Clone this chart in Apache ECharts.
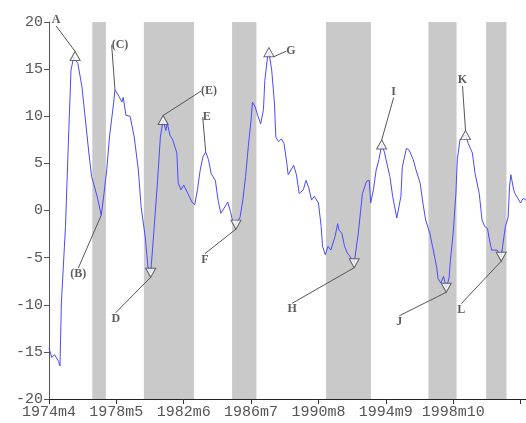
<!DOCTYPE html>
<html>
<head>
<meta charset="utf-8">
<script src="https://cdn.jsdelivr.net/npm/echarts@6/dist/echarts.min.js"></script>
<style>html,body{margin:0;padding:0;background:#fff}#c{width:526px;height:423px}</style>
</head>
<body>
<div id="c"></div>
<script>
// month offsets from 1974m4 and series values
const months = [0,2,4,7,8,9,12,14,16,18,19,21,24,26,29,31,35,38,40,42,44,47,48,51,53,54,56,59,62,65,67,70,72,74,76,79,81,83,85,86,88,90,93,94,96,98,99,101,104,106,108,110,112,114,116,118,121,123,125,128,130,132,134,136,139,141,143,145,147,148,150,152,154,156,157,159,160,162,164,165,167,169,171,173,174,178,180,182,185,187,189,191,193,196,198,199,201,203,205,208,210,211,213,215,217,220,222,225,227,228,231,233,234,236,238,240,242,244,245,248,250,253,254,256,257,260,262,265,267,270,272,274,277,279,282,283,285,287,289,291,292,294,296,297,299,301,303,305,308,310,313,315,317,319,320,322,324,326,329,330,332,334,335,336,338,339,341,343,345,347];
const values = [-14.6,-15.6,-15.3,-16.0,-16.5,-9.8,-1.7,6.8,14.9,16.3,16.4,15.6,13.1,10.3,6.1,3.6,1.5,-0.5,1.8,4.3,7.8,11.4,12.8,12.1,11.5,12.0,10.1,10.0,7.8,4.3,0.4,-2.8,-6.0,-6.6,-2.8,3.2,7.8,9.6,8.5,9.3,8.0,7.5,6.1,2.9,2.2,2.7,2.5,1.8,0.9,0.6,2.2,4.3,5.7,6.2,5.4,3.9,3.2,1.1,-0.3,0.4,0.9,-0.1,-1.4,-1.5,-0.7,1.1,3.6,6.8,9.6,11.5,11.0,10.0,9.2,10.7,13.8,16.3,16.8,14.9,11.4,7.8,7.3,7.6,7.1,5.0,3.8,4.8,3.8,1.8,2.2,3.2,2.4,1.1,1.5,0.8,-1.7,-3.8,-4.7,-3.8,-4.2,-2.8,-1.4,-2.1,-2.4,-3.8,-4.5,-5.1,-5.6,-2.4,0.4,1.8,3.1,3.2,0.8,2.2,4.3,5.4,7.0,6.2,5.5,3.6,1.5,-0.8,-1.0,1.5,4.6,6.6,6.4,5.4,4.3,2.9,0.8,-1.0,-2.4,-3.8,-6.0,-7.2,-7.7,-7.0,-8.2,-7.2,-5.3,-2.4,1.8,5.4,7.5,7.8,8.0,7.1,6.1,3.9,1.8,-1.0,-1.7,-1.9,-2.8,-4.2,-4.2,-4.2,-4.9,-3.8,-1.7,-0.7,2.5,3.8,2.2,1.8,1.3,0.8,1.3,1.1];

// recession bands (month offsets)
const bandStart = [31.5, 69, 133.2, 201.5, 276, 318];
const bandEnd   = [41.4, 105.5, 150.9, 234.2, 296.5, 332.8];

// x tick labels (every 49 months)
const xTickLabels = ['1974m4','1978m5','1982m6','1986m7','1990m8','1994m9','1998m10',''];

// turning point annotations
const markNames  = ['A','(C)','(B)','D','(E)','E','F','G','H','I','J','K','L'];
const markMonths = [19, 48, 38, 74, 83, 114, 136, 160, 222, 242, 289, 303, 329];
const markValues = [16.4, 12.8, -0.5, -6.6, 9.6, 6.2, -1.5, 16.8, -5.6, 7.0, -8.2, 8.0, -4.9];
const markKind   = ['up','none','none','down','up','none','down','up','down','up','down','up','down'];
const labelDx    = [-19, 5, -23, -35, 46, 1, -31, 22, -62, 12, -47, -3, -40];
const labelDy    = [-36, -45, 59, 46, -29, -35, 35, -1, 46, -53, 34, -55, 53];

const lineData = months.map((m, i) => [m, values[i]]);
const bands = bandStart.map((s, i) => [{xAxis: s}, {xAxis: bandEnd[i]}]);
const markData = markNames.map((n, i) => ({
  name: n,
  value: [markMonths[i], markValues[i]],
  symbol: 'triangle',
  symbolSize: markKind[i] === 'none' ? 0 : [10, 9],
  symbolRotate: markKind[i] === 'down' ? 180 : 0
}));

const chart = echarts.init(document.getElementById('c'), null, {renderer: 'canvas'});
chart.setOption({
  animation: false,
  grid: {left: 49, right: 0, top: 22, bottom: 24, containLabel: false},
  xAxis: {
    type: 'value', min: 0, max: 347, interval: 49,
    axisLine: {show: true, onZero: false, lineStyle: {color: '#222', width: 1}},
    axisTick: {show: true, length: 5, lineStyle: {color: '#333'}},
    splitLine: {show: false},
    axisLabel: {
      fontFamily: 'Liberation Mono', fontSize: 15, color: '#555', margin: 6,
      showMaxLabel: false,
      formatter: v => { const k = Math.round(v / 49); return (v % 49 === 0 && xTickLabels[k] !== undefined) ? xTickLabels[k] : ''; }
    }
  },
  yAxis: {
    type: 'value', min: -20, max: 20, interval: 5,
    axisLine: {show: true, lineStyle: {color: '#555', width: 1}},
    axisTick: {show: true, length: 5, lineStyle: {color: '#555'}},
    splitLine: {show: false},
    axisLabel: {fontFamily: 'Liberation Mono', fontSize: 15, color: '#555', margin: 6}
  },
  series: [
    {
      type: 'line', data: lineData, showSymbol: false, symbol: 'none',
      lineStyle: {color: '#4a4aff', width: 1}, z: 3,
      markArea: {silent: true, itemStyle: {color: '#c9c9c9'}, data: bands}
    },
    {
      type: 'scatter', data: markData, z: 5,
      itemStyle: {color: '#fff', borderColor: '#444', borderWidth: 1},
      label: {
        show: true, position: 'inside', formatter: p => p.name,
        fontFamily: 'Liberation Serif', fontSize: 12, fontWeight: 'bold', color: '#333'
      },
      labelLine: {show: true, lineStyle: {color: '#555', width: 1}},
      labelLayout: p => ({dx: labelDx[p.dataIndex], dy: labelDy[p.dataIndex]})
    }
  ]
});
</script>
</body>
</html>
